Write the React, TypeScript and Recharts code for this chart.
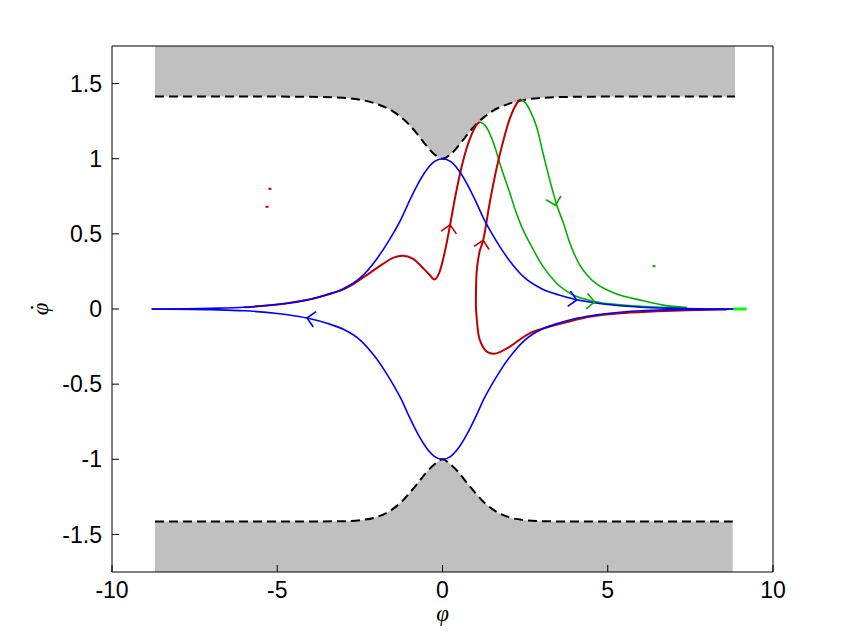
import React from 'react';
import { ComposedChart, Line, Area, Scatter, XAxis, YAxis } from 'recharts';

// axes
const xTicks = [-10, -5, 0, 5, 10];
const yTicks = [-1.5, -1, -0.5, 0, 0.5, 1, 1.5];

// edge of the forbidden (grey) region
const topEdgeX = [-8.7, -6, -4, -3, -2.5, -2, -1.5, -1.25, -1, -0.75, -0.5, -0.25, 0, 0.25, 0.5, 0.75, 1, 1.25, 1.5, 2, 2.5, 3, 4, 6, 8.85];
const topEdgeY = [1.414, 1.414, 1.412, 1.405, 1.393, 1.365, 1.315, 1.275, 1.225, 1.16, 1.09, 1.03, 1.0, 1.03, 1.09, 1.16, 1.225, 1.275, 1.315, 1.365, 1.393, 1.405, 1.412, 1.414, 1.414];
const bottomEdgeX = [-8.7, -6, -4, -3, -2.5, -2, -1.5, -1.25, -1, -0.75, -0.5, -0.25, 0, 0.25, 0.5, 0.75, 1, 1.25, 1.5, 2, 2.5, 3, 4, 6, 8.78];
const bottomEdgeY = [-1.414, -1.414, -1.414, -1.412, -1.405, -1.385, -1.33, -1.285, -1.225, -1.16, -1.09, -1.035, -1.0, -1.035, -1.09, -1.16, -1.225, -1.285, -1.33, -1.385, -1.405, -1.412, -1.414, -1.414, -1.414];

// separatrix (blue), upper branch; lower branch is its mirror image
const sepX = [-8.8, -7, -6, -5, -4.5, -4, -3.5, -3, -2.5, -2, -1.75, -1.5, -1.25, -1, -0.75, -0.5, -0.25, 0, 0.25, 0.5, 0.75, 1, 1.25, 1.5, 1.75, 2, 2.5, 3, 3.5, 4, 4.5, 5, 6, 7, 8.8];
const sepUpper = [0, 0.005, 0.012, 0.03, 0.045, 0.065, 0.095, 0.135, 0.205, 0.33, 0.41, 0.5, 0.6, 0.72, 0.83, 0.92, 0.98, 1.0, 0.98, 0.92, 0.83, 0.72, 0.6, 0.5, 0.41, 0.33, 0.205, 0.135, 0.095, 0.065, 0.045, 0.03, 0.012, 0.005, 0];
const sepLower = [0, -0.005, -0.012, -0.03, -0.045, -0.065, -0.095, -0.135, -0.205, -0.33, -0.41, -0.5, -0.6, -0.72, -0.83, -0.92, -0.98, -1.0, -0.98, -0.92, -0.83, -0.72, -0.6, -0.5, -0.41, -0.33, -0.205, -0.135, -0.095, -0.065, -0.045, -0.03, -0.012, -0.005, 0];

// red trajectories
const redAX = [-6, -5, -4, -3.5, -3, -2.7, -2.4, -2.1, -1.8, -1.5, -1.2, -0.9, -0.6, -0.4, -0.25, -0.1, 0.08, 0.23, 0.38, 0.53, 0.73, 0.88, 1.05, 1.13];
const redAY = [0.012, 0.03, 0.065, 0.095, 0.13, 0.165, 0.21, 0.255, 0.3, 0.34, 0.355, 0.335, 0.275, 0.23, 0.197, 0.24, 0.39, 0.56, 0.74, 0.9, 1.07, 1.16, 1.23, 1.245];
const redBX = [8.6, 7.4, 6.5, 5.5, 4.5, 3.8, 3.2, 2.65, 2.3, 2.04, 1.75, 1.54, 1.35, 1.23, 1.12, 1.06, 1.02, 1.01, 1.03, 1.08, 1.13, 1.23, 1.34, 1.44, 1.64, 1.84, 2.04, 2.25, 2.36];
const redBY = [-0.003, -0.008, -0.015, -0.027, -0.05, -0.085, -0.12, -0.16, -0.21, -0.25, -0.285, -0.298, -0.285, -0.255, -0.2, -0.12, -0.02, 0.06, 0.236, 0.33, 0.39, 0.457, 0.59, 0.72, 0.94, 1.12, 1.27, 1.37, 1.395];

// green trajectories
const greenAX = [1.13, 1.3, 1.44, 1.59, 1.74, 1.9, 2.04, 2.2, 2.4, 2.65, 3.05, 3.46, 3.96, 4.6, 5.47, 6.68, 7.4];
const greenAY = [1.245, 1.22, 1.163, 1.075, 0.965, 0.86, 0.77, 0.66, 0.545, 0.435, 0.28, 0.17, 0.093, 0.05, 0.026, 0.011, 0.005];
const greenBX = [2.36, 2.5, 2.65, 2.85, 3.05, 3.25, 3.46, 3.66, 3.86, 4.16, 4.4, 4.67, 5.0, 5.27, 6.08, 6.68, 7.4];
const greenBY = [1.395, 1.375, 1.32, 1.21, 1.03, 0.854, 0.69, 0.57, 0.435, 0.29, 0.22, 0.165, 0.125, 0.1, 0.055, 0.026, 0.01];
const tipX = [8.8, 9.2];
const tipY = [0, 0];

// direction arrows: position + heading in screen degrees
const blueArrowX = [4.06, -4.1];
const blueArrowY = [0.06, -0.06];
const blueArrowDir = [10, 190];
const greenArrowX = [4.6, 3.42];
const greenArrowY = [0.048, 0.69];
const greenArrowDir = [5, 75];
const redArrowX = [0.23, 1.23];
const redArrowY = [0.56, 0.457];
const redArrowDir = [-80, -78];

// stray specks
const redSpeckX = [-5.22, -5.31];
const redSpeckY = [0.8, 0.68];
const greenSpeckX = [6.4];
const greenSpeckY = [0.285];

const BLUE = '#0000ff';
const RED = '#c00000';
const GREEN = '#00b000';
const GREY = '#c0c0c0';

const pts = (xs: number[], ys: number[]) => xs.map((x, i) => ({ x, y: ys[i] }));
const arrows = (xs: number[], ys: number[], ds: number[]) => xs.map((x, i) => ({ x, y: ys[i], dir: ds[i] }));

const tickFont = { fill: '#000', fontSize: 23, fontFamily: '"Liberation Sans", Arial, sans-serif' };
const labelFont = { fontFamily: '"Liberation Serif", serif', fontStyle: 'italic' as const, fontSize: 23 };

const arrowShape = (color: string) => (props: any) => {
  const { cx, cy, payload } = props;
  const back = ((payload.dir + 180) * Math.PI) / 180;
  const spread = (45 * Math.PI) / 180;
  const len = 11;
  const x1 = cx + len * Math.cos(back - spread);
  const y1 = cy + len * Math.sin(back - spread);
  const x2 = cx + len * Math.cos(back + spread);
  const y2 = cy + len * Math.sin(back + spread);
  return <path d={`M${x1},${y1} L${cx},${cy} L${x2},${y2}`} stroke={color} strokeWidth={1.6} fill="none" />;
};

const speckShape = (color: string) => (props: any) => (
  <rect x={props.cx - 1.5} y={props.cy - 1} width={3} height={2} fill={color} />
);

const XLabel = (props: any) => {
  const { viewBox } = props;
  return (
    <text x={viewBox.x + viewBox.width / 2} y={viewBox.y + 49} textAnchor="middle" style={labelFont} fill="#000">
      {'\u03C6'}
    </text>
  );
};

export default function App() {
  return (
    <div style={{ position: 'absolute', left: 0, top: 0, width: 855, height: 643, background: '#fff' }}>
      <ComposedChart width={855} height={643} margin={{ top: 45, right: 81, bottom: 0, left: 0 }}>
        <Area data={pts(topEdgeX, topEdgeY)} dataKey="y" type="monotone" baseValue="dataMax"
          fill={GREY} fillOpacity={1} stroke="none" isAnimationActive={false} />
        <Area data={pts(bottomEdgeX, bottomEdgeY)} dataKey="y" type="monotone" baseValue="dataMin"
          fill={GREY} fillOpacity={1} stroke="none" isAnimationActive={false} />
        <Line data={pts(topEdgeX, topEdgeY)} dataKey="y" type="monotone" stroke="#000" strokeWidth={2}
          strokeDasharray="9 5" dot={false} isAnimationActive={false} />
        <Line data={pts(bottomEdgeX, bottomEdgeY)} dataKey="y" type="monotone" stroke="#000" strokeWidth={2}
          strokeDasharray="9 5" dot={false} isAnimationActive={false} />

        <Line data={pts(greenAX, greenAY)} dataKey="y" type="monotone" stroke={GREEN} strokeWidth={1.6} dot={false} isAnimationActive={false} />
        <Line data={pts(greenBX, greenBY)} dataKey="y" type="monotone" stroke={GREEN} strokeWidth={1.6} dot={false} isAnimationActive={false} />
        <Line data={pts(tipX, tipY)} dataKey="y" type="linear" stroke="#00ff00" strokeWidth={3} dot={false} isAnimationActive={false} />
        <Line data={pts(redAX, redAY)} dataKey="y" type="monotone" stroke={RED} strokeWidth={2} dot={false} isAnimationActive={false} />
        <Line data={pts(redBX, redBY)} dataKey="y" type="natural" stroke={RED} strokeWidth={2} dot={false} isAnimationActive={false} />
        <Line data={pts(sepX, sepUpper)} dataKey="y" type="monotone" stroke={BLUE} strokeWidth={1.6} dot={false} isAnimationActive={false} />
        <Line data={pts(sepX, sepLower)} dataKey="y" type="monotone" stroke={BLUE} strokeWidth={1.6} dot={false} isAnimationActive={false} />

        <Scatter data={arrows(blueArrowX, blueArrowY, blueArrowDir)} shape={arrowShape(BLUE)} isAnimationActive={false} />
        <Scatter data={arrows(greenArrowX, greenArrowY, greenArrowDir)} shape={arrowShape(GREEN)} isAnimationActive={false} />
        <Scatter data={arrows(redArrowX, redArrowY, redArrowDir)} shape={arrowShape(RED)} isAnimationActive={false} />
        <Scatter data={pts(redSpeckX, redSpeckY)} shape={speckShape(RED)} isAnimationActive={false} />
        <Scatter data={pts(greenSpeckX, greenSpeckY)} shape={speckShape(GREEN)} isAnimationActive={false} />

        <XAxis dataKey="x" type="number" domain={[-10, 10]} ticks={xTicks} allowDataOverflow height={71}
          tickSize={-7} tickMargin={17} tick={tickFont} axisLine={{ stroke: '#000' }} tickLine={{ stroke: '#000' }}
          label={{ content: XLabel }} />
        <XAxis xAxisId="t" orientation="top" type="number" domain={[-10, 10]} ticks={xTicks} allowDataOverflow height={1}
          tickSize={-7} tick={false} axisLine={{ stroke: '#000' }} tickLine={{ stroke: '#000' }} />
        <YAxis dataKey="y" type="number" domain={[-1.75, 1.75]} ticks={yTicks} allowDataOverflow width={112}
          tickSize={-7} tickMargin={17} tick={tickFont} axisLine={{ stroke: '#000' }} tickLine={{ stroke: '#000' }} />
        <YAxis yAxisId="r" orientation="right" type="number" domain={[-1.75, 1.75]} ticks={yTicks} allowDataOverflow width={1}
          tickSize={-7} tick={false} axisLine={{ stroke: '#000' }} tickLine={{ stroke: '#000' }} />
      </ComposedChart>
      {/* y label: phi with a dot, turned on its side like MATLAB's ylabel */}
      <svg width={112} height={643} style={{ position: 'absolute', left: 0, top: 0, pointerEvents: 'none' }}>
        <g transform="translate(43,309) rotate(-90)">
          <text x={0} y={5} textAnchor="middle" style={labelFont} fill="#000">{'\u03C6'}</text>
          <circle cx={1.5} cy={-11} r={1.3} fill="#000" />
        </g>
      </svg>
    </div>
  );
}
